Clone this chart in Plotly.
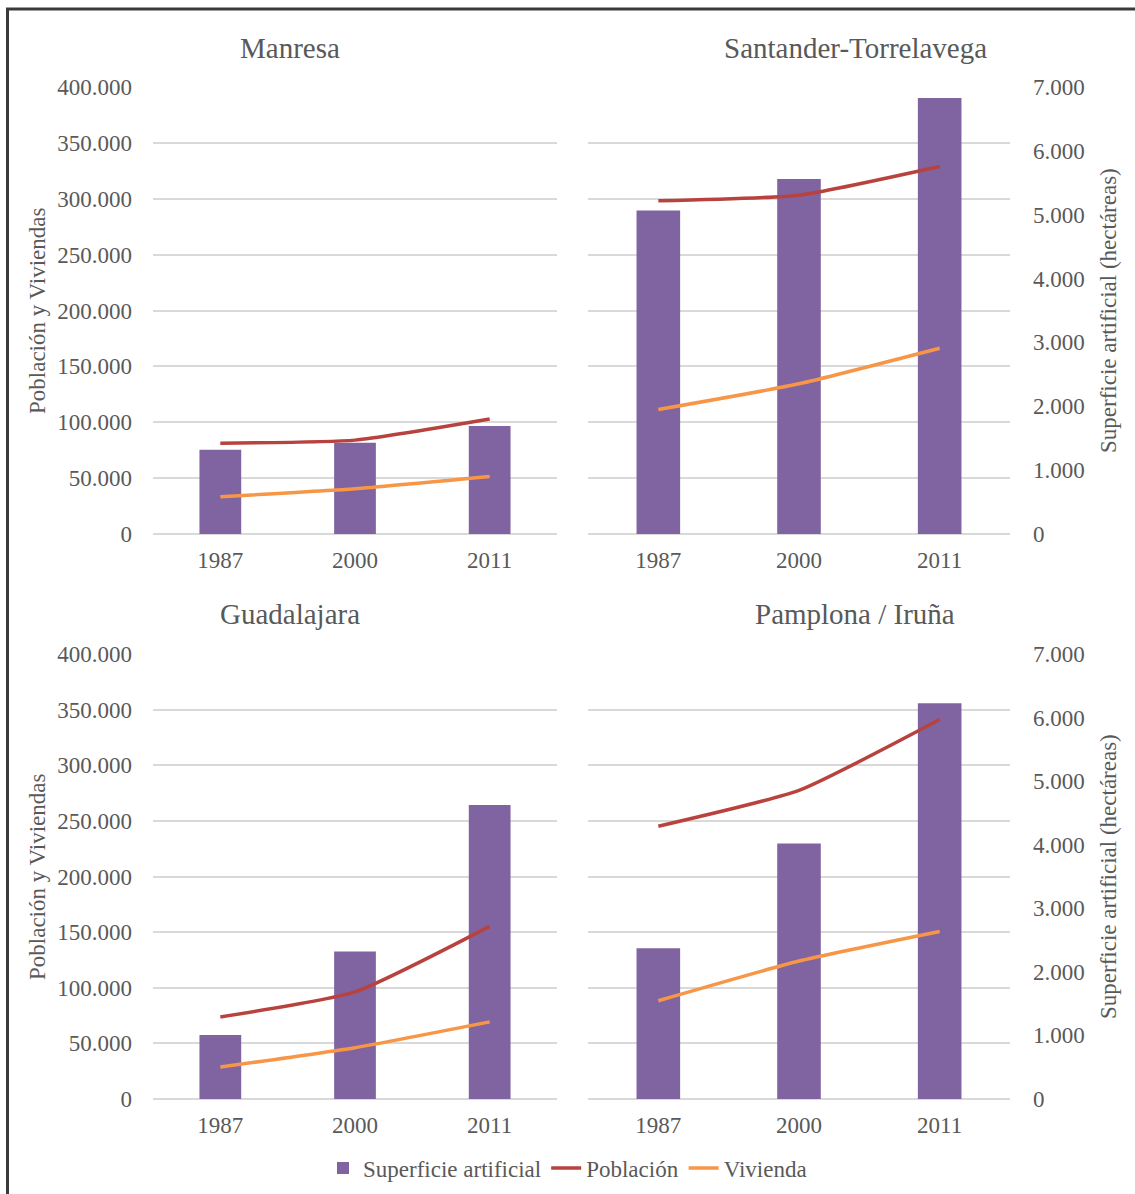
import plotly.graph_objects as go

# Years on the category axis
years = ["1987", "2000", "2011"]

# Panel names (reading order: top-left, top-right, bottom-left, bottom-right)
cities = ["Manresa", "Santander-Torrelavega", "Guadalajara", "Pamplona / Iruña"]

# Superficie artificial (hectáreas)
superficie_manresa = [1320, 1428, 1691]
superficie_santander = [5066, 5558, 6828]
superficie_guadalajara = [1006, 2321, 4624]
superficie_pamplona = [2370, 4018, 6224]

# Población (habitantes)
poblacion_manresa = [81250, 84000, 102900]
poblacion_santander = [298100, 303200, 328900]
poblacion_guadalajara = [73800, 96300, 155200]
poblacion_pamplona = [245200, 277400, 341100]

# Vivienda (número de viviendas)
vivienda_manresa = [33400, 40500, 51500]
vivienda_santander = [111400, 134400, 166200]
vivienda_guadalajara = [28700, 46100, 69300]
vivienda_pamplona = [88300, 124000, 150600]

superficie = [superficie_manresa, superficie_santander, superficie_guadalajara, superficie_pamplona]
poblacion = [poblacion_manresa, poblacion_santander, poblacion_guadalajara, poblacion_pamplona]
vivienda = [vivienda_manresa, vivienda_santander, vivienda_guadalajara, vivienda_pamplona]

W, H = 1135, 1194
FONT = "Liberation Serif"
GREY = "#595959"
GRID = "#d9d9d9"
PURPLE = "#8064a2"
RED = "#b8423d"
ORANGE = "#f79646"


def px_x(v):
    return v / W


def px_y(v):
    return 1 - v / H


# Plot-area rectangles in pixels: (left, right, top, bottom)
panels = [
    (153, 557, 87, 534),
    (588, 1010, 87, 534),
    (153, 557, 654, 1099),
    (588, 1010, 654, 1099),
]

fig = go.Figure()
layout = {}

for k in range(4):
    n = k + 1
    xa = f"x{n}"
    y_area = f"y{2 * n - 1}"
    y_pop = f"y{2 * n}"
    first = k == 0
    left_panel = k % 2 == 0

    fig.add_trace(go.Bar(
        x=years, y=superficie[k], name="Superficie artificial",
        marker=dict(color=PURPLE, line=dict(width=0)), width=0.31,
        xaxis=xa, yaxis=y_area, showlegend=first, legendgroup="sup",
    ))
    fig.add_trace(go.Scatter(
        x=years, y=poblacion[k], name="Población", mode="lines",
        line=dict(color=RED, width=3.5, shape="spline", smoothing=0.5),
        xaxis=xa, yaxis=y_pop, showlegend=first, legendgroup="pob",
    ))
    fig.add_trace(go.Scatter(
        x=years, y=vivienda[k], name="Vivienda", mode="lines",
        line=dict(color=ORANGE, width=3.5, shape="spline", smoothing=0.5),
        xaxis=xa, yaxis=y_pop, showlegend=first, legendgroup="viv",
    ))

    l, r, t, b = panels[k]
    xdom = [px_x(l), px_x(r)]
    ydom = [px_y(b), px_y(t)]
    tickfont = dict(family=FONT, size=23, color=GREY)

    layout[f"xaxis{n}"] = dict(
        domain=xdom, anchor=y_area, type="category", range=[-0.5, 2.5],
        showgrid=False, zeroline=False, showline=False, ticks="",
        tickfont=tickfont, ticklabelstandoff=10, fixedrange=True,
        automargin=False,
    )
    layout[f"yaxis{2 * n - 1}"] = dict(
        domain=ydom, anchor=xa, side="right", range=[0, 7000], dtick=1000,
        tick0=0, showgrid=False, zeroline=False, showline=False, ticks="",
        showticklabels=not left_panel, tickformat=",.0f", tickfont=tickfont,
        ticklabelstandoff=22, automargin=False,
    )
    layout[f"yaxis{2 * n}"] = dict(
        overlaying=y_area, anchor=xa, side="left", range=[0, 400000],
        dtick=50000, tick0=0, showgrid=True, gridcolor=GRID, gridwidth=1.5,
        zeroline=True, zerolinecolor=GRID, zerolinewidth=1.5, showline=False,
        ticks="", showticklabels=left_panel, tickformat=",.0f",
        tickfont=tickfont, ticklabelstandoff=20, automargin=False,
    )

annotations = []
title_pos = [(290, 48), (855, 48), (290, 614), (855, 614)]
for name, (cx, cy) in zip(cities, title_pos):
    annotations.append(dict(
        text=name, x=px_x(cx), y=px_y(cy), xref="paper", yref="paper",
        xanchor="center", yanchor="middle", showarrow=False,
        font=dict(family=FONT, size=29, color=GREY),
    ))

for cy in (311, 877):
    annotations.append(dict(
        text="Población y Viviendas", x=px_x(37), y=px_y(cy),
        xref="paper", yref="paper", xanchor="center", yanchor="middle",
        textangle=-90, showarrow=False,
        font=dict(family=FONT, size=23, color=GREY),
    ))
    annotations.append(dict(
        text="Superficie artificial (hectáreas)", x=px_x(1108), y=px_y(cy),
        xref="paper", yref="paper", xanchor="center", yanchor="middle",
        textangle=-90, showarrow=False,
        font=dict(family=FONT, size=23, color=GREY),
    ))

# Outer frame around the figure
shapes = [dict(
    type="rect", xref="paper", yref="paper",
    x0=px_x(7.5), x1=px_x(1150), y0=px_y(1210), y1=px_y(9),
    line=dict(color="#3a3a3a", width=3), fillcolor="rgba(0,0,0,0)",
)]

fig.update_layout(
    width=W, height=H,
    margin=dict(l=0, r=0, t=0, b=0, autoexpand=False),
    paper_bgcolor="white", plot_bgcolor="white",
    separators=",.",
    font=dict(family=FONT, color=GREY),
    barmode="group",
    showlegend=True,
    legend=dict(
        orientation="h", x=0.5, xanchor="center", y=px_y(1168), yanchor="middle",
        font=dict(family=FONT, size=23, color=GREY),
        itemwidth=30, tracegroupgap=0, bgcolor="rgba(0,0,0,0)",
    ),
    annotations=annotations,
    shapes=shapes,
    **layout,
)

fig.write_html("out.html")
